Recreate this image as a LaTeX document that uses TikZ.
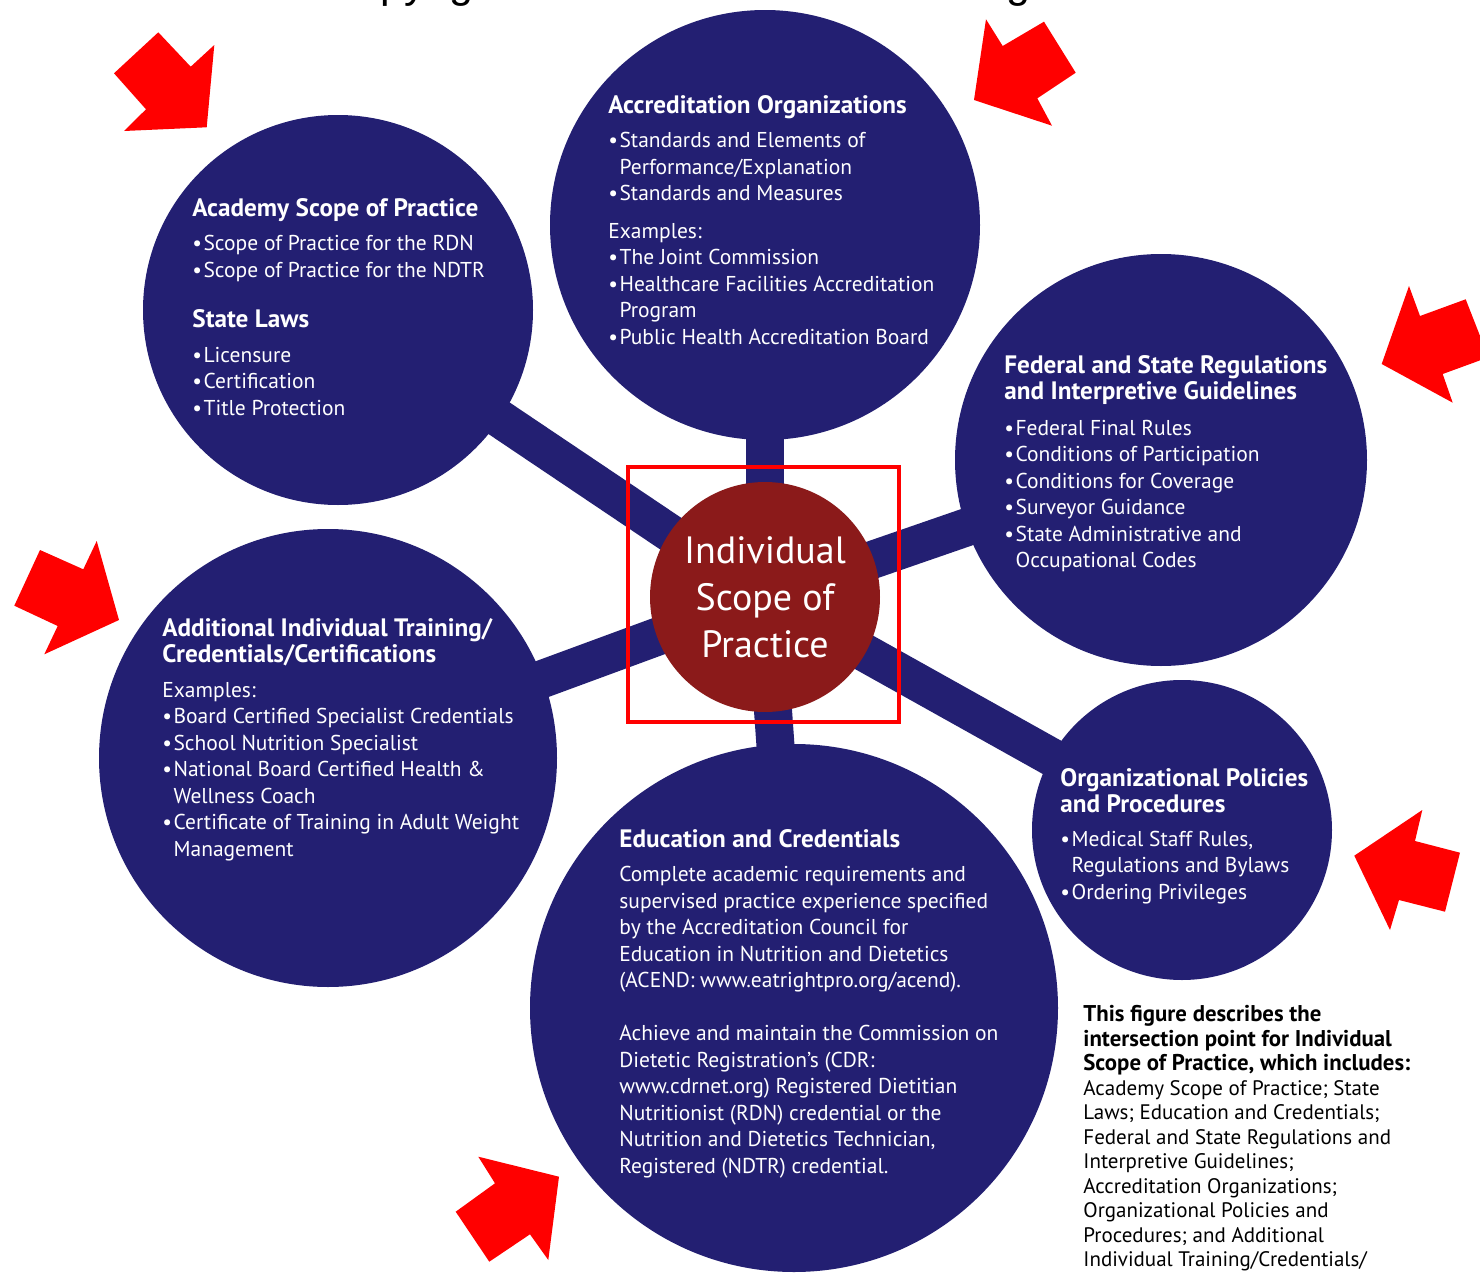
\documentclass[tikz,border=0pt]{standalone}
\usepackage{fontspec}
\setmainfont{PT Sans}
\newfontfamily\arialfont{Liberation Sans}
\definecolor{navy}{RGB}{35,31,114}
\definecolor{hubred}{RGB}{139,26,26}
\pgfdeclarelayer{paper}
\pgfdeclarelayer{spokes}
\pgfsetlayers{paper,spokes,main}
% bullet item, hanging continuation and bold headings
\newcommand\itm{\makebox[0.52em][l]{\textbullet}}
\newcommand\cnt{\hspace*{0.52em}}
\newcommand\hd[1]{{\fontsize{12.6}{13.25}\selectfont\bfseries #1}}
\newcommand\capbold[1]{{\fontsize{11.4}{12.25}\selectfont\bfseries #1}}
\begin{document}
\begin{tikzpicture}[x=0.5pt,y=-0.5pt,
  topic/.style={circle, fill=navy, inner sep=0pt, minimum size=#1},
  spoke/.style={draw=navy, line width=19pt},
  blurb/.style={text=white, align=left, anchor=north west, inner sep=0pt,
    font=\fontsize{10.75}{13.25}\selectfont},
  note/.style={text=black, align=left, anchor=north west, inner sep=0pt,
    font=\fontsize{10.5}{12.25}\selectfont},
  hub/.style={circle, fill=hubred, inner sep=0pt, minimum size=115pt, text=white,
    align=center, font=\fontsize{19}{23.5}\selectfont},
  focusframe/.style={draw=red, line width=2pt, inner sep=0pt,
    minimum width=135.5pt, minimum height=127.5pt},
  pointer/.style={fill=red}]
\useasboundingbox (0,0) rectangle (1480,1274);
\begin{pgfonlayer}{paper}
  \fill[white] (0,0) rectangle (1480,1274);
\end{pgfonlayer}
\clip (0,0) rectangle (1480,1274);

% running header line, mostly above the page edge
\node[anchor=base west, inner sep=0pt, font=\arialfont\fontsize{21.5}{21.5}\selectfont]
  (rights) at (325,-3) {Copyright © 2018 Elsevier Inc. All rights reserved.};

% topic circles
\node[topic=215pt] (acc) at (765,225) {};
\node[topic=195pt] (aca) at (338,310) {};
\node[topic=206pt] (fed) at (1161,460) {};
\node[topic=229pt] (add) at (328,758) {};
\node[topic=264pt] (edu) at (794,1008) {};
\node[topic=150pt] (org) at (1182,830) {};

% hub
\node[hub] (hub) at (765,597) {Individual\\Scope of\\Practice};

% spokes from the hub to each topic
\begin{pgfonlayer}{spokes}
  \draw[spoke] (hub.center) -- (acc.center);
  \draw[spoke] (hub.center) -- (aca.center);
  \draw[spoke] (hub.center) -- (fed.center);
  \draw[spoke] (hub.center) -- (add.center);
  \draw[spoke] (hub.center) -- (edu.center);
  \draw[spoke] (hub.center) -- (org.center);
\end{pgfonlayer}

% frame round the hub
\node[focusframe] (frame) at (763.5,594.5) {};

% topic texts
\node[blurb] (acctext) at (608,95) {\hd{Accreditation Organizations}\\[4pt]
\itm Standards and Elements of\\
\cnt Performance/Explanation\\
\itm Standards and Measures\\[5.5pt]
Examples:\\
\itm The Joint Commission\\
\itm Healthcare Facilities Accreditation\\
\cnt Program\\
\itm Public Health Accreditation Board};

\node[blurb] (acatext) at (192,198) {\hd{Academy Scope of Practice}\\[4pt]
\itm Scope of Practice for the RDN\\
\itm Scope of Practice for the NDTR\\[12pt]
\hd{State Laws}\\[4pt]
\itm Licensure\\
\itm Certification\\
\itm Title Protection};

\node[blurb] (fedtext) at (1004,355) {\hd{Federal and State Regulations}\\
\hd{and Interpretive Guidelines}\\[4.5pt]
\itm Federal Final Rules\\
\itm Conditions of Participation\\
\itm Conditions for Coverage\\
\itm Surveyor Guidance\\
\itm State Administrative and\\
\cnt Occupational Codes};

\node[blurb] (addtext) at (162,618) {\hd{Additional Individual Training/}\\
\hd{Credentials/Certifications}\\[4pt]
Examples:\\
\itm Board Certified Specialist Credentials\\
\itm School Nutrition Specialist\\
\itm National Board Certified Health \&\\
\cnt Wellness Coach\\
\itm Certificate of Training in Adult Weight\\
\cnt Management};

\node[blurb] (orgtext) at (1060,768) {\hd{Organizational Policies}\\
\hd{and Procedures}\\[3.5pt]
\itm Medical Staff Rules,\\
\cnt Regulations and Bylaws\\
\itm Ordering Privileges};

\node[blurb] (edutext) at (619,829) {\hd{Education and Credentials}\\[4pt]
Complete academic requirements and\\
supervised practice experience specified\\
by the Accreditation Council for\\
Education in Nutrition and Dietetics\\
(ACEND: www.eatrightpro.org/acend).\\[13.25pt]
Achieve and maintain the Commission on\\
Dietetic Registration's (CDR:\\
www.cdrnet.org) Registered Dietitian\\
Nutritionist (RDN) credential or the\\
Nutrition and Dietetics Technician,\\
Registered (NDTR) credential.};

% caption
\node[note] (caption) at (1083,1005) {\capbold{This figure describes the}\\
\capbold{intersection point for Individual}\\
\capbold{Scope of Practice, which includes:}\\
Academy Scope of Practice; State\\
Laws; Education and Credentials;\\
Federal and State Regulations and\\
Interpretive Guidelines;\\
Accreditation Organizations;\\
Organizational Policies and\\
Procedures; and Additional\\
Individual Training/Credentials/};

% red pointer arrows
\fill[pointer] (158.3,32.3) -- (190.7,66.7) -- (214.3,45) -- (206.7,127.3) -- (124,131) -- (146,109.3) -- (114,73.3) -- cycle;
\fill[pointer] (986,19.3) -- (1002.7,46) -- (1044,21.7) -- (1075.7,72.7) -- (1037.3,98.3) -- (1052,125.7) -- (974,100) -- cycle;
\fill[pointer] (1409,286) -- (1420,316) -- (1465.7,299.3) -- (1488.4,357.3) -- (1442.7,374) -- (1452.7,402.7) -- (1381.7,364) -- cycle;
\fill[pointer] (96.7,541) -- (83.3,569.3) -- (40,550) -- (14.3,605.7) -- (57.7,626) -- (44.3,654.3) -- (119,620) -- cycle;
\fill[pointer] (1422.3,810) -- (1415,841) -- (1460,852.7) -- (1445,911.7) -- (1399,900) -- (1390,930) -- (1354.3,855.7) -- cycle;
\fill[pointer] (478.3,1156.7) -- (495,1183.3) -- (455.7,1211.7) -- (489.3,1261.7) -- (530,1234.3) -- (548.3,1260) -- (559,1176.7) -- cycle;
\end{tikzpicture}
\end{document}
